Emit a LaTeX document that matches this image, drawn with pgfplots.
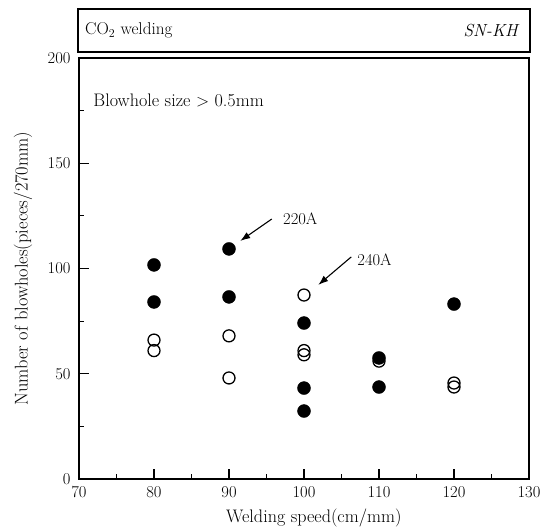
\documentclass[border=0pt]{standalone}
\usepackage{fontspec}
\usepackage{pgfplots}
\pgfplotsset{compat=1.18}
\usetikzlibrary{arrows.meta}
\newcommand{\fs}{\fontsize{16.6}{20}\selectfont}
\newcommand{\fl}{\fontsize{18.2}{22}\selectfont}
\begin{document}
\begin{tikzpicture}
\begin{axis}[
  at={(0,0)}, anchor=south west,
  scale only axis,
  width=450bp, height=421bp,
  xmin=70, xmax=130, ymin=0, ymax=200,
  xtick={70,80,...,130}, ytick={0,50,...,200},
  minor x tick num=1, minor y tick num=1,
  tick pos=left, tick align=inside,
  major tick length=10bp, minor tick length=5bp,
  axis line style={line width=1.3pt},
  every tick/.style={line width=1.1pt, black},
  /pgf/number format/assume math mode=true,
  tick label style={font=\fs},
  xticklabel style={yshift=-4bp},
  yticklabel style={xshift=-5bp},
  every axis x label/.style={at={(axis description cs:0.522,-0.0926)}, anchor=center, font=\fl},
  every axis y label/.style={at={(axis description cs:-0.1244,0.5)}, anchor=center, rotate=90, font=\fontsize{18.5}{22}\selectfont},
  xlabel={Welding speed(cm/mm)},
  ylabel={Number of blowholes(pieces/270mm)},
  clip=false,
]
\addplot[only marks, mark=o, mark size=6bp, mark options={line width=1.3pt, black}] coordinates {
 (80,66) (80,61) (90,68) (90,48) (100,87.4) (100,61) (100,59) (110,56) (120,45.6) (120,43.7)
};
\addplot[only marks, mark=*, mark size=6.5bp, mark options={black, fill=black}] coordinates {
 (80,101.7) (80,84.1) (90,109.3) (90,86.5) (100,74.1) (100,43.2) (100,32.3) (110,57.5) (110,43.7) (120,83.1)
};
\node[anchor=west, font=\fl, inner sep=0pt] at (axis cs:71.9,180) {Blowhole size $>$ 0.5mm};
\draw[-{Latex[length=10bp,width=7bp]}, line width=1.1pt] (axis cs:95.7,123.5) -- (axis cs:91.5,113.1);
\node[anchor=west, font=\fs, inner sep=0pt] at (axis cs:97.2,123.5) {220A};
\draw[-{Latex[length=10bp,width=7bp]}, line width=1.1pt] (axis cs:106.3,105.5) -- (axis cs:101.9,92.2);
\node[anchor=west, font=\fs, inner sep=0pt] at (axis cs:107.1,104) {240A};
\end{axis}
\draw[line width=1.3pt] (-1bp,427bp) rectangle (451bp,470bp);
\node[anchor=west, font=\fontsize{17.2}{20}\selectfont, inner sep=0pt] at (6bp,448.5bp) {CO$_2$ welding};
\node[anchor=east, font=\fontsize{17.5}{20}\selectfont\itshape, inner sep=0pt] at (439bp,448.5bp) {SN-KH};
\path (-79bp,-52bp) rectangle (472bp,479bp);
\end{tikzpicture}
\end{document}
